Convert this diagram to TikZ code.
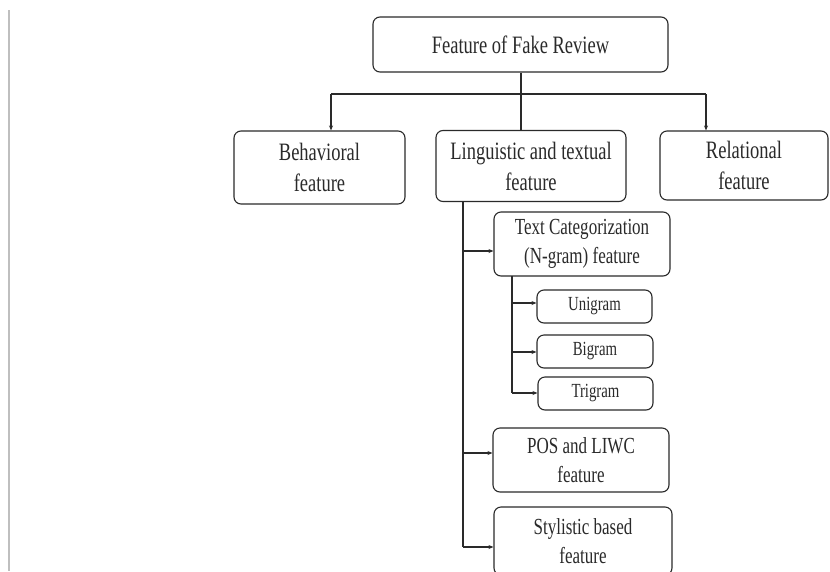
\documentclass[tikz,border=0pt]{standalone}
\usepackage{fontspec}
\setmainfont{Liberation Serif}
\newfontfamily\condfont[FakeStretch=0.74]{Liberation Serif}
\usetikzlibrary{arrows.meta}
\definecolor{ink}{HTML}{2A2A2A}
\tikzset{
  box/.style={draw=ink, line width=1.1pt, rounded corners=7pt, align=center, inner sep=0pt, text=ink},
  bigtxt/.style={font=\condfont\fontsize{25}{31}\selectfont},
  midtxt/.style={font=\condfont\fontsize{23}{29}\selectfont},
  smalltxt/.style={font=\condfont\fontsize{20}{24}\selectfont},
  conn/.style={draw=ink, line width=1.1pt},
  arr/.style={conn, -{Stealth[length=5pt,width=4pt]}},
}
\begin{document}
\begin{tikzpicture}[x=1pt,y=-1pt]
\useasboundingbox (0,0) rectangle (830,571);
\clip (0,0) rectangle (830,571);
\fill[white] (0,0) rectangle (830,571);
% left scan edge
\draw[line width=2pt, color=black!25] (8.5,10) -- (8.5,571);

\node[box,bigtxt,minimum width=295pt,minimum height=55pt] (root) at (520.5,44.5) {Feature of Fake Review};
\node[box,bigtxt,minimum width=171pt,minimum height=73pt] (beh) at (319.5,167.5) {Behavioral\\feature};
\node[box,bigtxt,minimum width=190pt,minimum height=71pt] (ling) at (531,166) {Linguistic and textual\\feature};
\node[box,bigtxt,minimum width=168pt,minimum height=69pt] (rel) at (744,165.5) {Relational\\feature};

\node[box,midtxt,minimum width=176pt,minimum height=64pt] (tc) at (582,244) {Text Categorization\\(N-gram) feature};
\node[box,smalltxt,minimum width=115pt,minimum height=33pt] (uni) at (594.5,306.5) {Unigram};
\node[box,smalltxt,minimum width=116pt,minimum height=33pt] (bi) at (595,351.5) {Bigram};
\node[box,smalltxt,minimum width=115pt,minimum height=33pt] (tri) at (595.5,393.5) {Trigram};
\node[box,midtxt,minimum width=176pt,minimum height=64pt] (pos) at (581,460) {POS and LIWC\\feature};
\node[box,midtxt,minimum width=178pt,minimum height=68pt] (sty) at (583,541) {Stylistic based\\feature};

% top level connectors
\coordinate (hL) at (331,94);
\coordinate (hM) at (521,94);
\coordinate (hR) at (706,94);
\draw[conn] (root.south -| hM) -- (ling.north -| hM);
\draw[conn] (hL) -- (hR);
\draw[arr] (hL) -- (hL |- beh.north);
\draw[arr] (hR) -- (hR |- rel.north);

% linguistic trunk
\coordinate (lt) at (463,202);
\coordinate (l1) at (463,251);
\coordinate (l2) at (463,453);
\coordinate (l3) at (463,547);
\draw[conn] (lt) -- (l3);
\draw[arr] (l1) -- (l1 -| tc.west);
\draw[arr] (l2) -- (l2 -| pos.west);
\draw[arr] (l3) -- (l3 -| sty.west);

% n-gram trunk
\coordinate (nt) at (512,276);
\coordinate (n1) at (512,303);
\coordinate (n2) at (512,352);
\coordinate (n3) at (512,393);
\draw[conn] (nt) -- (n3);
\draw[arr] (n1) -- (n1 -| uni.west);
\draw[arr] (n2) -- (n2 -| bi.west);
\draw[arr] (n3) -- (n3 -| tri.west);
\end{tikzpicture}
\end{document}
